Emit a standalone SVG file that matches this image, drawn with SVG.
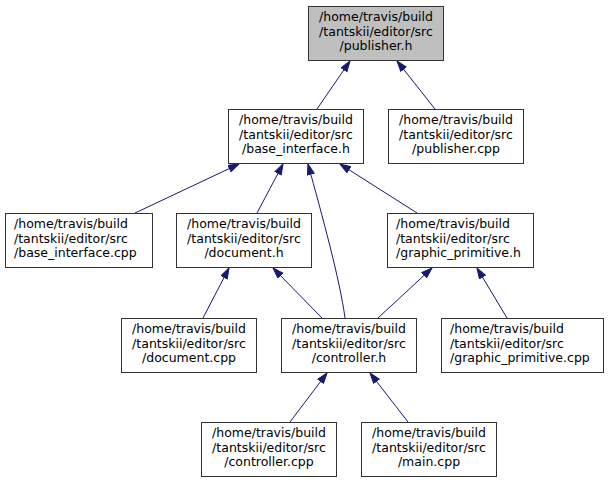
<svg xmlns="http://www.w3.org/2000/svg" width="609" height="483" viewBox="0 0 609 483">
<style>
.n rect{fill:#ffffff;stroke:#333333;stroke-width:1}
.n.cur rect{fill:#bfbfbf}
.n text{font-family:"DejaVu Sans",sans-serif;font-size:12.5px;fill:#000000}
.c text{text-anchor:middle}
.e{fill:none;stroke:#191970;stroke-width:1;marker-end:url(#ah)}
</style>
<defs>
<marker id="ah" markerUnits="userSpaceOnUse" markerWidth="12" markerHeight="10" refX="11" refY="4" orient="auto">
<path d="M0.5,0.5 L11,4 L0.5,7.5 z" fill="#191970" stroke="#191970" stroke-width="1"/>
</marker>
</defs>
<rect width="609" height="483" fill="#ffffff"/>
<g id="edges">
<path class="e" d="M317,109 L350,61"/>
<path class="e" d="M435,109 L397,61"/>
<path class="e" d="M135,213 L239,164"/>
<path class="e" d="M257,213 L283,164"/>
<path class="e" d="M345,318 C340,280 322,215 308,164"/>
<path class="e" d="M417,213 L340,164"/>
<path class="e" d="M203,318 L229,268"/>
<path class="e" d="M322,318 L273,268"/>
<path class="e" d="M378,318 L432,268"/>
<path class="e" d="M507,318 L477,268"/>
<path class="e" d="M290,422 L327,373"/>
<path class="e" d="M408,422 L370,373"/>
</g>
<g id="publisher_h" class="n c cur">
<rect x="308.5" y="6.5" width="135" height="54"/>
<text x="376" y="21">/home/travis/build</text>
<text x="376" y="35.5">/tantskii/editor/src</text>
<text x="376" y="50">/publisher.h</text>
</g>
<g id="base_interface_h" class="n c">
<rect x="228.5" y="109.5" width="135" height="54"/>
<text x="296" y="124">/home/travis/build</text>
<text x="296" y="138.5">/tantskii/editor/src</text>
<text x="296" y="153">/base_interface.h</text>
</g>
<g id="publisher_cpp" class="n c">
<rect x="388.5" y="109.5" width="135" height="54"/>
<text x="456" y="124">/home/travis/build</text>
<text x="456" y="138.5">/tantskii/editor/src</text>
<text x="456" y="153">/publisher.cpp</text>
</g>
<g id="base_interface_cpp" class="n">
<rect x="5.5" y="213.5" width="147" height="54"/>
<text x="14" y="228">/home/travis/build</text>
<text x="14" y="242.5">/tantskii/editor/src</text>
<text x="14" y="257">/base_interface.cpp</text>
</g>
<g id="document_h" class="n c">
<rect x="176.5" y="213.5" width="135" height="54"/>
<text x="244" y="228">/home/travis/build</text>
<text x="244" y="242.5">/tantskii/editor/src</text>
<text x="244" y="257">/document.h</text>
</g>
<g id="graphic_primitive_h" class="n">
<rect x="387.5" y="213.5" width="146" height="54"/>
<text x="396" y="228">/home/travis/build</text>
<text x="396" y="242.5">/tantskii/editor/src</text>
<text x="396" y="257">/graphic_primitive.h</text>
</g>
<g id="document_cpp" class="n c">
<rect x="121.5" y="318.5" width="135" height="54"/>
<text x="189" y="333">/home/travis/build</text>
<text x="189" y="347.5">/tantskii/editor/src</text>
<text x="189" y="362">/document.cpp</text>
</g>
<g id="controller_h" class="n c">
<rect x="281.5" y="318.5" width="135" height="54"/>
<text x="349" y="333">/home/travis/build</text>
<text x="349" y="347.5">/tantskii/editor/src</text>
<text x="349" y="362">/controller.h</text>
</g>
<g id="graphic_primitive_cpp" class="n">
<rect x="441.5" y="318.5" width="162" height="54"/>
<text x="450" y="333">/home/travis/build</text>
<text x="450" y="347.5">/tantskii/editor/src</text>
<text x="450" y="362">/graphic_primitive.cpp</text>
</g>
<g id="controller_cpp" class="n c">
<rect x="201.5" y="422.5" width="135" height="54"/>
<text x="269" y="437">/home/travis/build</text>
<text x="269" y="451.5">/tantskii/editor/src</text>
<text x="269" y="466">/controller.cpp</text>
</g>
<g id="main_cpp" class="n c">
<rect x="361.5" y="422.5" width="135" height="54"/>
<text x="429" y="437">/home/travis/build</text>
<text x="429" y="451.5">/tantskii/editor/src</text>
<text x="429" y="466">/main.cpp</text>
</g>
</svg>
